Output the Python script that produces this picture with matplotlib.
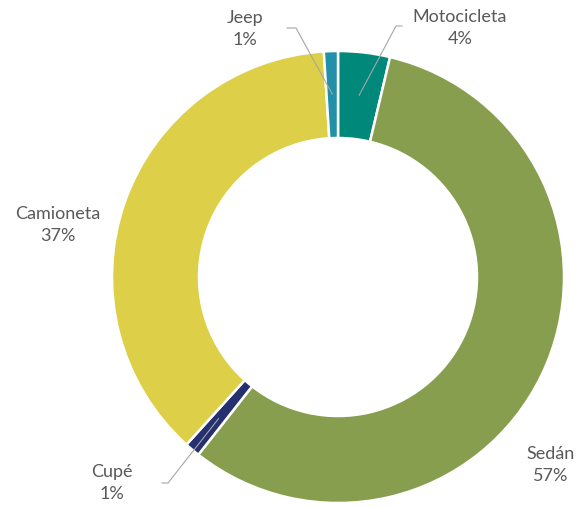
import numpy as np
import matplotlib.pyplot as plt

categorias = ["Motocicleta", "Sedán", "Cupé", "Camioneta", "Jeep"]
valores = [3.7, 56.9, 1.1, 37.3, 1.0]
etiquetas = ["4%", "57%", "1%", "37%", "1%"]
colores = ["#00897B", "#879E4F", "#243070", "#DECF48", "#2190A8"]

H = 508
cx, cy, R = 338, H - 277, 226

fig = plt.figure(figsize=(5.79, 5.08), dpi=100)
ax = fig.add_axes([0, 0, 1, 1])
ax.pie(valores, colors=colores, startangle=90, counterclock=False,
       center=(cx, cy), radius=R,
       wedgeprops=dict(width=R - 139, edgecolor="white", linewidth=1.8))
ax.set_xlim(0, 579)
ax.set_ylim(0, H)
ax.set_aspect("equal")
ax.axis("off")

# label centre (pixels), leader line: start radius fraction, elbow, end
labels_pos = {
    "Motocicleta": ((460, 28), (0.81, (396, 26), (402, 26))),
    "Sedán": ((551, 465), None),
    "Cupé": ((112, 483), (0.82, (168, 483), (162, 483))),
    "Camioneta": ((58, 225), None),
    "Jeep": ((245, 29), (0.81, (296, 28), (287, 28))),
}

acum = np.cumsum([0] + valores)
for i, cat in enumerate(categorias):
    (tx, ty), leader = labels_pos[cat]
    ax.text(tx, H - ty, cat + "\n" + etiquetas[i], ha="center", va="center",
            fontsize=13, color="#595959", family="Lato", linespacing=1.5)
    if leader:
        frac, (ex, ey), (hx, hy) = leader
        mid = (acum[i] + acum[i + 1]) / 2 / 100 * 360
        ang = np.deg2rad(90 - mid)
        sx, sy = cx + frac * R * np.cos(ang), cy + frac * R * np.sin(ang)
        ax.plot([sx, ex, hx], [sy, H - ey, H - hy], color="#A6A6A6", lw=0.8)

plt.savefig("out.png", dpi=100)
